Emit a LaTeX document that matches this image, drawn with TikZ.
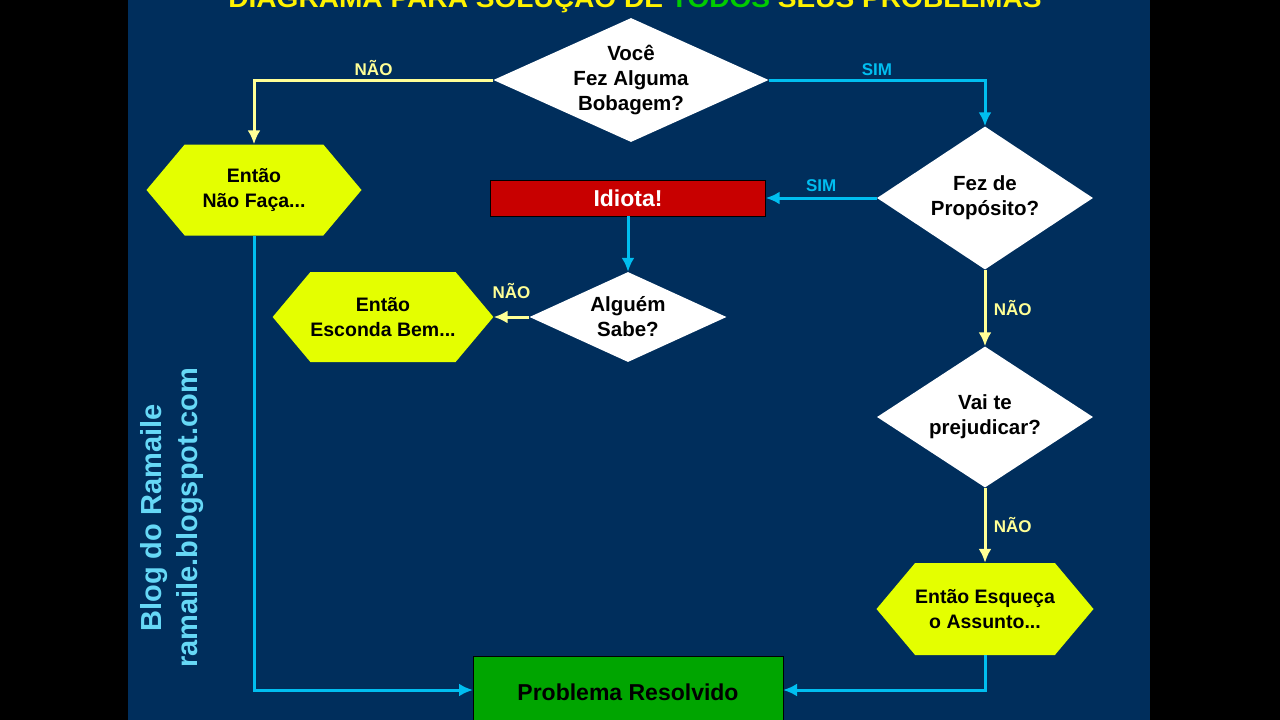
\documentclass[tikz,border=0pt]{standalone}
\usepackage{fontspec}
\setmainfont{Liberation Sans}
\usetikzlibrary{shapes.geometric,shapes.symbols}
\definecolor{navy}{RGB}{0,46,92}
\definecolor{lime}{RGB}{228,255,0}
\definecolor{paleyellow}{RGB}{255,255,150}
\definecolor{skyblue}{RGB}{0,190,240}
\definecolor{idiotred}{RGB}{200,0,0}
\definecolor{okgreen}{RGB}{0,165,0}
\tikzset{
  txt/.style={font=\bfseries\fontsize{20.5}{25}\selectfont, align=center},
  question/.style={diamond, fill=white, inner sep=0pt, txt},
  answer/.style={signal, signal to=east and west, signal pointer angle=100, fill=lime, inner sep=0pt, txt,
    font=\bfseries\fontsize{19.5}{25}\selectfont},
  yes/.style={draw=skyblue, line width=3pt, -{Latex[length=14pt,width=13pt]}},
  no/.style={draw=paleyellow, line width=3pt, -{Latex[length=14pt,width=13pt]}},
  yeslabel/.style={text=skyblue, font=\bfseries\fontsize{17}{19}\selectfont},
  nolabel/.style={text=paleyellow, font=\bfseries\fontsize{17}{19}\selectfont}
}
\usetikzlibrary{arrows.meta}
\begin{document}
\begin{tikzpicture}[x=1pt,y=-1pt]
\useasboundingbox (0,0) rectangle (1280,720);
\clip (0,0) rectangle (1280,720);
\fill[black] (0,0) rectangle (1280,720);
\fill[navy] (128,0) rectangle (1150,720);

% title
\node[font=\bfseries\fontsize{26}{28}\selectfont, text=yellow, xscale=1.08] (title) at (635,-1)
  {DIAGRAMA PARA SOLUÇÃO DE \textcolor{green!80!black}{TODOS} SEUS PROBLEMAS};

% questions
\node[question, aspect=2.3, minimum width=270, minimum height=124] (bobagem) at (631,80) {Você\\Fez Alguma\\Bobagem?};
\node[question, aspect=1.5, minimum width=216, minimum height=143] (proposito) at (985,198) {Fez de\\Propósito?};
\node[question, aspect=2.2, minimum width=197, minimum height=90] (sabe) at (628,317) {Alguém\\Sabe?};
\node[question, aspect=1.5, minimum width=216, minimum height=141] (prejudicar) at (985,417) {Vai te\\prejudicar?};

% answers
\node[answer, minimum width=215, minimum height=91] (naofaca) at (254,190) {Então\\Não Faça...};
\node[answer, minimum width=217, minimum height=90] (esconda) at (383,317) {Então\\Esconda Bem...};
\node[answer, minimum width=216, minimum height=92] (esqueca) at (985,609) {Então Esqueça\\o Assunto...};
\node[draw=black, fill=idiotred, text=white, minimum width=275, minimum height=36, inner sep=0pt,
  font=\bfseries\fontsize{23}{25}\selectfont] (idiota) at (628,198) {Idiota!};
\node[draw=black, fill=okgreen, minimum width=310, minimum height=72, inner sep=0pt,
  font=\bfseries\fontsize{23}{25}\selectfont, anchor=north] (resolvido) at (628,656) {\raisebox{-15pt}{Problema Resolvido}};

% connectors
\draw[no] (bobagem.west) -| (naofaca.north) node[pos=0.25, above, nolabel] {NÃO};
\draw[yes] (bobagem.east) -| (proposito.north) node[pos=0.25, above, yeslabel] {SIM};
\draw[yes] (proposito.west) -- (idiota.east) node[pos=0.5, above=2pt, yeslabel] {SIM};
\draw[yes] (idiota.south) -- (sabe.north);
\draw[no] (sabe.west) -- (esconda.east) node[midway, above=14pt, nolabel] {NÃO};
\draw[no] (proposito.south) -- (prejudicar.north) node[midway, right=4pt, nolabel] {NÃO};
\draw[no] (prejudicar.south) -- (esqueca.north) node[midway, right=4pt, nolabel] {NÃO};
\coordinate (rightin) at (783,690);
\coordinate (leftin) at (473,690);
\draw[yes] (esqueca.south) |- (rightin);
\draw[yes] (naofaca.south) |- (leftin);

% blog
\node[rotate=90, text=skyblue!60!white, font=\bfseries\fontsize{29}{36}\selectfont, align=center] (blog) at (172,518)
  {Blog do Ramaile\\ramaile.blogspot.com};
\end{tikzpicture}
\end{document}
